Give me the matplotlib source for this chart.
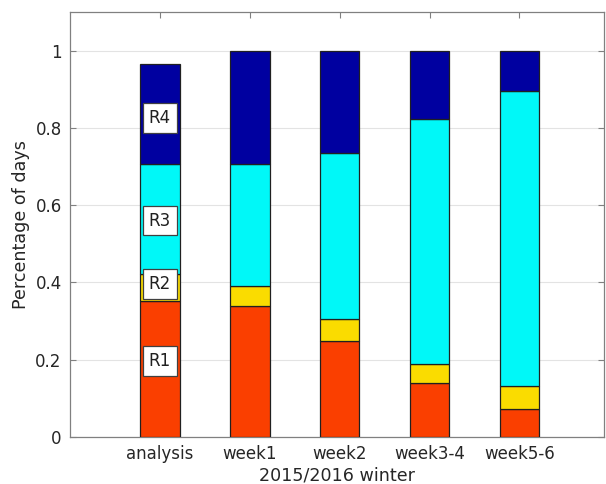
import matplotlib
matplotlib.use("Agg")
import matplotlib.pyplot as plt
import numpy as np

categories = ["analysis", "week1", "week2", "week3-4", "week5-6"]
r1 = [0.351, 0.339, 0.248, 0.139, 0.073]
r2 = [0.071, 0.052, 0.058, 0.049, 0.058]
r3 = [0.284, 0.316, 0.428, 0.634, 0.765]
r4 = [0.260, 0.293, 0.266, 0.178, 0.104]
regime_names = ["R1", "R2", "R3", "R4"]
regime_colors = ["#FA3F00", "#FADC00", "#00F8F8", "#0000A0"]
label_y = [0.196, 0.396, 0.56, 0.826]
yticks = [0, 0.2, 0.4, 0.6, 0.8, 1]
ytick_labels = ["0", "0.2", "0.4", "0.6", "0.8", "1"]

plt.rcParams["font.family"] = ["DejaVu Sans"]

W, H = 606, 484
fig = plt.figure(figsize=(W / 100, H / 100), dpi=100)
ax = fig.add_axes([70 / W, 1 - 437 / H, (604 - 70) / W, (437 - 12) / H])

x = np.arange(1, len(categories) + 1)
series = [r1, r2, r3, r4]
bottom = np.zeros(len(categories))
for vals, col in zip(series, regime_colors):
    ax.bar(x, vals, width=0.44, bottom=bottom, color=col,
           edgecolor="#202020", linewidth=0.9, zorder=3)
    bottom += np.array(vals)

# Regime labels placed on the first bar
for name, yv in zip(regime_names, label_y):
    ax.text(x[0], yv, name, ha="center", va="center", fontsize=12,
            color="#202020", zorder=5,
            bbox=dict(boxstyle="square,pad=0.35", fc="white", ec="#404040", lw=0.9))

ax.set_xlim(0, 5.94)
ax.set_ylim(0, 1.1)
ax.set_xticks(x)
ax.set_xticklabels(categories)
ax.set_yticks(yticks)
ax.set_yticklabels(ytick_labels)
ax.tick_params(direction="in", top=True, right=True, length=4, width=0.8,
               colors="#808080", labelcolor="#262626", labelsize=12, pad=6)
ax.yaxis.grid(True, color="#e3e3e3", linewidth=0.8, zorder=0)
ax.set_axisbelow(True)
for sp in ax.spines.values():
    sp.set_color("#808080")
    sp.set_linewidth(0.9)

ax.set_ylabel("Percentage of days", fontsize=12.6, color="#262626", labelpad=4)
ax.set_xlabel("2015/2016 winter", fontsize=12.6, color="#262626", labelpad=2)

fig.savefig("out.png", dpi=100)
